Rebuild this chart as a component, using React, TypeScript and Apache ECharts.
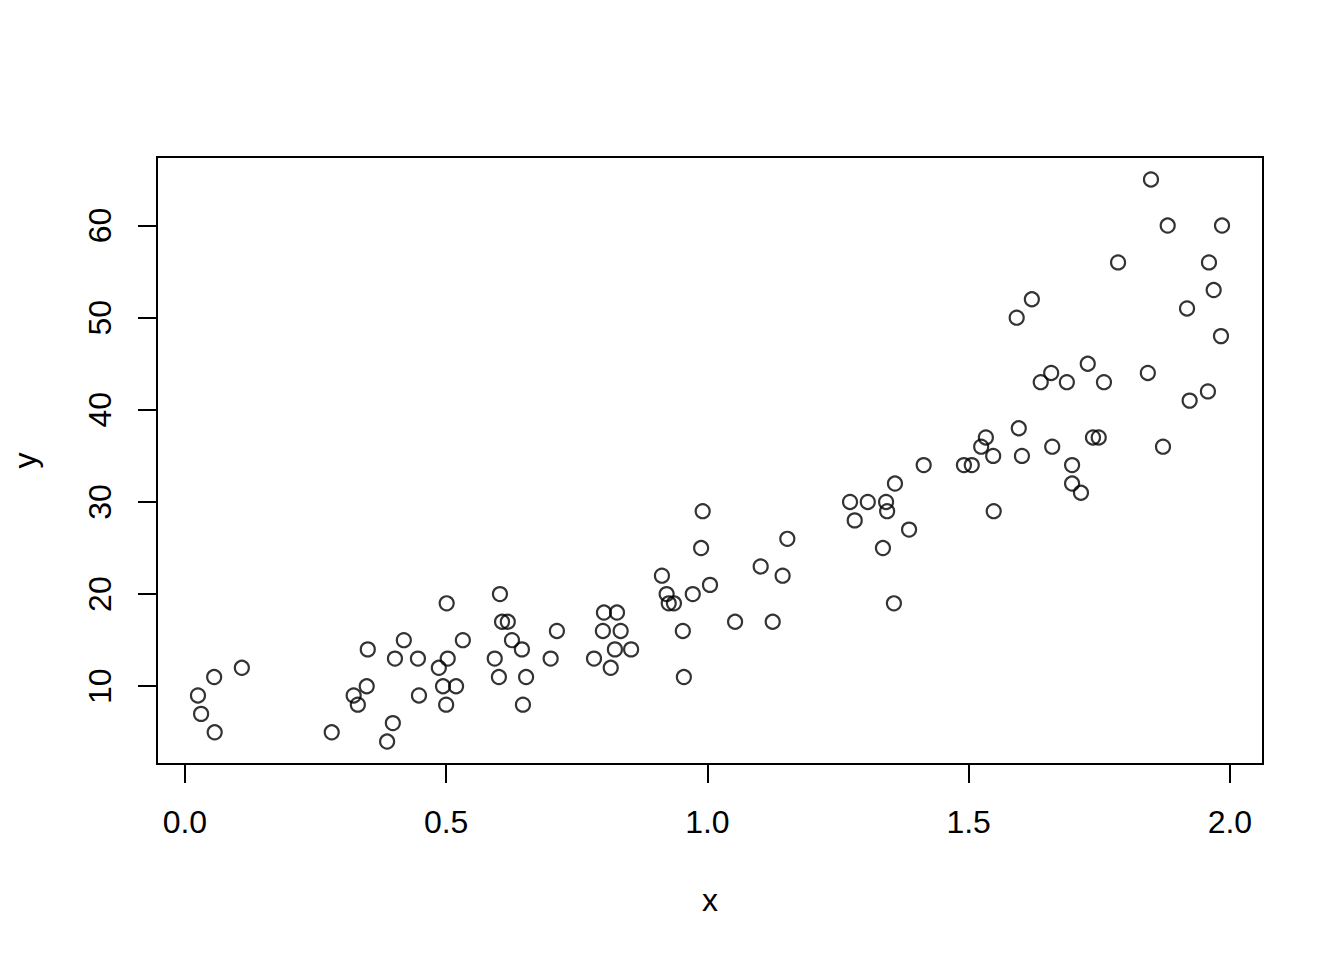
import React, { useEffect, useRef } from "react";
import * as echarts from "echarts";

const xValues = [
  0.025, 0.031, 0.056, 0.057, 0.109, 0.281, 0.323, 0.331, 0.348, 0.35,
  0.387, 0.398, 0.402, 0.419, 0.446, 0.448, 0.486, 0.494, 0.501, 0.5,
  0.503, 0.519, 0.532, 0.593, 0.601, 0.603, 0.607, 0.618, 0.626, 0.645,
  0.653, 0.647, 0.7, 0.712, 0.783, 0.8, 0.802, 0.815, 0.827, 0.823,
  0.834, 0.854, 0.913, 0.922, 0.926, 0.936, 0.953, 0.955, 0.972, 0.988,
  0.991, 1.005, 1.053, 1.102, 1.125, 1.144, 1.153, 1.273, 1.282, 1.307,
  1.336, 1.342, 1.344, 1.357, 1.359, 1.386, 1.414, 1.491, 1.506, 1.524,
  1.533, 1.547, 1.548, 1.592, 1.596, 1.602, 1.621, 1.638, 1.658, 1.66,
  1.688, 1.698, 1.698, 1.715, 1.728, 1.738, 1.749, 1.759, 1.786, 1.843,
  1.849, 1.872, 1.881, 1.918, 1.923, 1.958, 1.96, 1.969, 1.983, 1.985,
];

const yValues = [
  9, 7, 11, 5, 12, 5, 9, 8, 10, 14,
  4, 6, 13, 15, 13, 9, 12, 10, 19, 8,
  13, 10, 15, 13, 11, 20, 17, 17, 15, 14,
  11, 8, 13, 16, 13, 16, 18, 12, 18, 14,
  16, 14, 22, 20, 19, 19, 16, 11, 20, 25,
  29, 21, 17, 23, 17, 22, 26, 30, 28, 30,
  25, 30, 29, 19, 32, 27, 34, 34, 34, 36,
  37, 35, 29, 50, 38, 35, 52, 43, 44, 36,
  43, 34, 32, 31, 45, 37, 37, 43, 56, 44,
  65, 36, 60, 51, 41, 42, 56, 53, 48, 60,
];

const xTickMin = 0;
const xTickMax = 2;
const xTickStep = 0.5;
const yTickMin = 10;
const yTickMax = 60;
const yTickStep = 10;

const xLabel = "x";
const yLabel = "y";

const FONT = "'Liberation Sans', Arial, Helvetica, sans-serif";

export default function App() {
  const ref = useRef<HTMLDivElement>(null);

  useEffect(() => {
    if (!ref.current) return;
    const chart = echarts.init(ref.current, undefined, { renderer: "svg" });

    // R-style 4% range extension
    const xMinD = Math.min(...xValues);
    const xMaxD = Math.max(...xValues);
    const yMinD = Math.min(...yValues);
    const yMaxD = Math.max(...yValues);
    const xExt = 0.04 * (xMaxD - xMinD);
    const yExt = 0.04 * (yMaxD - yMinD);

    const L = 157, T = 157, W = 1106, H = 607;
    const xpx = (v: number) => L + ((v - (xMinD - xExt)) / (xMaxD - xMinD + 2 * xExt)) * W;
    const ypx = (v: number) => T + H - ((v - (yMinD - yExt)) / (yMaxD - yMinD + 2 * yExt)) * H;
    const gx0 = xpx(xTickMin);
    const gx1 = xpx(xTickMax);
    const gy0 = ypx(yTickMax);
    const gy1 = ypx(yTickMin);

    const lineW = 2;
    const labelStyle = { color: "#000", fontSize: 32, fontFamily: FONT };

    chart.setOption({
      animation: false,
      backgroundColor: "#fff",
      grid: [
        { left: L, top: T, width: W, height: H, show: true, borderColor: "#000", borderWidth: lineW, backgroundColor: "transparent" },
        { left: gx0, top: T, width: gx1 - gx0, height: H },
        { left: L, top: gy0, width: W, height: gy1 - gy0 },
      ],
      xAxis: [
        {
          gridIndex: 0,
          type: "value",
          min: xMinD - xExt,
          max: xMaxD + xExt,
          axisLine: { show: false },
          axisTick: { show: false },
          axisLabel: { show: false },
          splitLine: { show: false },
          name: xLabel,
          nameLocation: "middle",
          nameGap: 120,
          nameTextStyle: { ...labelStyle },
        },
        {
          gridIndex: 1,
          type: "value",
          min: xTickMin,
          max: xTickMax,
          interval: xTickStep,
          position: "bottom",
          axisLine: { show: true, lineStyle: { color: "#000", width: lineW } },
          axisTick: { show: true, length: 19, lineStyle: { color: "#000", width: lineW } },
          axisLabel: { ...labelStyle, margin: 42, formatter: (v: number) => v.toFixed(1) },
          splitLine: { show: false },
        },
        { gridIndex: 2, type: "value", show: false },
      ],
      yAxis: [
        {
          gridIndex: 0,
          type: "value",
          min: yMinD - yExt,
          max: yMaxD + yExt,
          axisLine: { show: false },
          axisTick: { show: false },
          axisLabel: { show: false },
          splitLine: { show: false },
          name: yLabel,
          nameLocation: "middle",
          nameRotate: 90,
          nameGap: 116,
          nameTextStyle: { ...labelStyle },
        },
        { gridIndex: 1, type: "value", show: false },
        {
          gridIndex: 2,
          type: "value",
          min: yTickMin,
          max: yTickMax,
          interval: yTickStep,
          position: "left",
          axisLine: { show: true, lineStyle: { color: "#000", width: lineW } },
          axisTick: { show: true, length: 19, lineStyle: { color: "#000", width: lineW } },
          axisLabel: { ...labelStyle, margin: 41, rotate: 90 },
          splitLine: { show: false },
        },
      ],
      series: [
        {
          type: "scatter",
          xAxisIndex: 0,
          yAxisIndex: 0,
          symbol: "circle",
          symbolSize: 14,
          data: xValues.map((x, i) => [x, yValues[i]]),
          itemStyle: { color: "transparent", borderColor: "#000", borderWidth: 2.2 },
          emphasis: { disabled: true },
        },
      ],
    });

    return () => chart.dispose();
  }, []);

  return (
    <div
      ref={ref}
      style={{ position: "fixed", left: 0, top: 0, width: 1344, height: 960, background: "#fff" }}
    />
  );
}
